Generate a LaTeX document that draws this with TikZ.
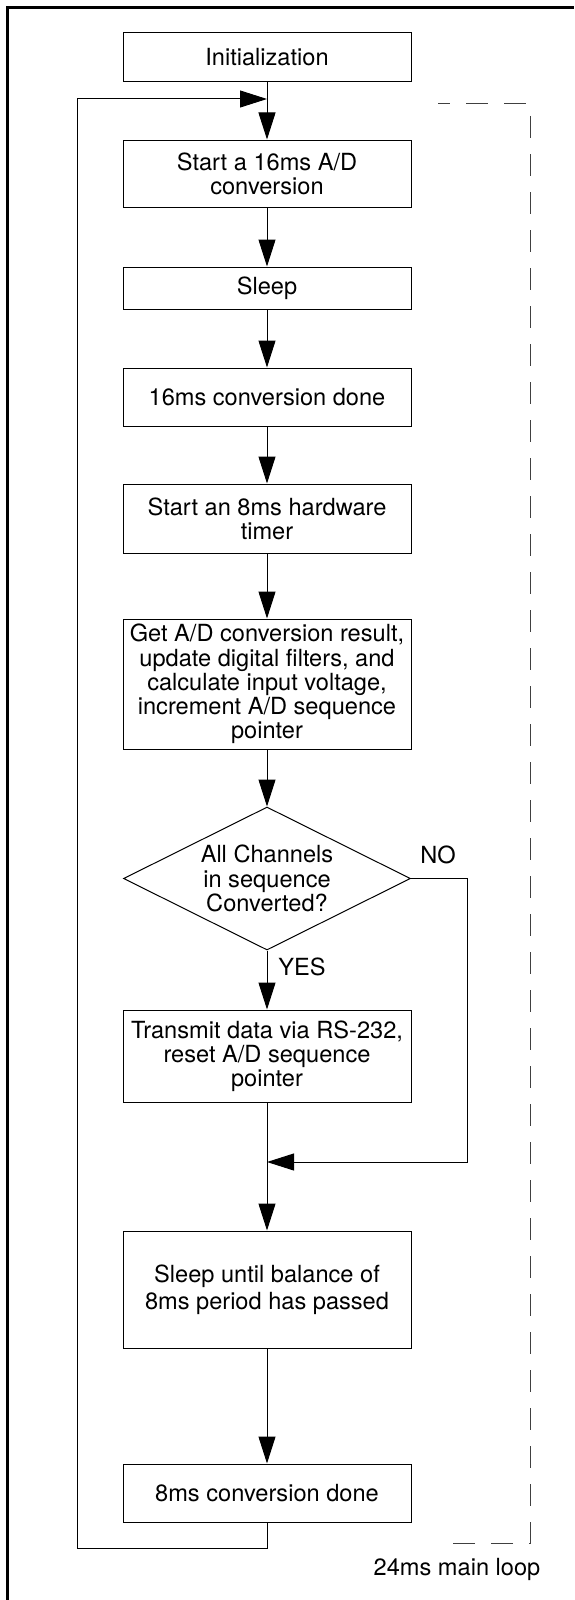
\documentclass[tikz,border=0pt]{standalone}
\usepackage{fontspec}
\setmainfont{TeX Gyre Heros}
\usetikzlibrary{arrows.meta,shapes.geometric}
\newcommand\flowfont{\fontsize{23.6}{24.2}\selectfont}
\begin{document}
\begin{tikzpicture}[x=1pt,y=-1pt,
  box/.style={draw, line width=1pt, minimum width=288pt, inner sep=0pt, align=center, font=\flowfont},
  decision/.style={draw, diamond, line width=1pt, minimum width=287pt, minimum height=143pt, inner sep=0pt, aspect=2, align=center, font=\flowfont},
  arr/.style={line width=1pt, -{Triangle[length=27pt,width=17pt]}},
  lbl/.style={inner sep=0pt, font=\flowfont},
  loopdash/.style={line width=1pt, black!75, dash pattern=on 22pt off 16pt, dash phase=10pt},
  frame/.style={line width=2.6pt}]
\useasboundingbox (0,0) rectangle (574,1600);
\draw[frame] (7.3,1600) -- (7.3,7.5) -- (574,7.5);
\node[box, minimum height=49pt] (init) at (267,57.5) {Initialization};
\node[box, minimum height=67pt] (s16) at (267,173.5) {Start a 16ms A/D\\conversion};
\node[box, minimum height=42pt] (sleep) at (267,288) {Sleep};
\node[box, minimum height=58pt] (d16) at (267,397) {16ms conversion done};
\node[box, minimum height=69pt] (s8) at (267,518.5) {Start an 8ms hardware\\timer};
\node[box, minimum height=130pt] (getad) at (267,684) {Get A/D conversion result,\\update digital filters, and\\calculate input voltage,\\increment A/D sequence\\pointer};
\node[decision] (dec) at (267,878.5) {All Channels\\in sequence\\Converted?};
\node[box, minimum height=92pt] (tx) at (267,1056) {Transmit data via RS-232,\\reset A/D sequence\\pointer};
\node[box, minimum height=117pt] (slp8) at (267,1289.5) {Sleep until balance of\\[3pt]8ms period has passed};
\node[box, minimum height=58pt] (d8) at (267,1493) {8ms conversion done};
\coordinate (j1) at (267,99);
\coordinate (lb) at (77,1548);
\coordinate (nc) at (467,1162);
\coordinate (j2) at (267,1162);
\draw[arr] (init.south) -- (s16.north);
\draw[arr] (s16.south) -- (sleep.north);
\draw[arr] (sleep.south) -- (d16.north);
\draw[arr] (d16.south) -- (s8.north);
\draw[arr] (s8.south) -- (getad.north);
\draw[arr] (getad.south) -- (dec.north);
\draw[arr] (dec.south) -- (tx.north);
\draw[arr] (dec.east) -| (nc) -- (j2);
\draw[arr] (tx.south) -- (slp8.north);
\draw[arr] (slp8.south) -- (d8.north);
\draw[arr] (d8.south) |- (lb) |- (j1);
\node[lbl, anchor=base] (no) at (438,863) {NO};
\node[lbl, anchor=base] (yes) at (302,975) {YES};
\coordinate (da) at (438,104);
\coordinate (db) at (530,104);
\coordinate (dc) at (530,1543);
\coordinate (dd) at (442,1543);
\draw[loopdash] (da) -- (db) -- (dc) -- (dd);
\node[lbl, anchor=base] (looplabel) at (457,1575) {24ms main loop};
\end{tikzpicture}
\end{document}
